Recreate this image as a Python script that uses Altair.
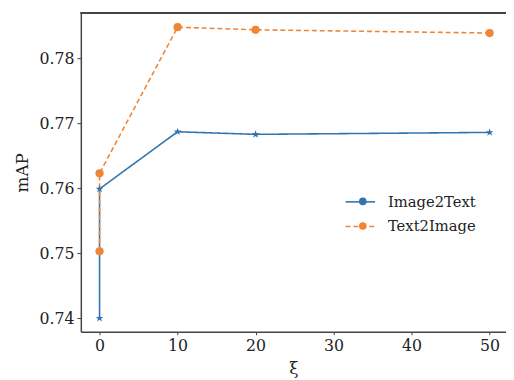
import altair as alt
import pandas as pd

series = ["Image2Text", "Text2Image"]
xi = [0, 0, 10, 20, 50]
i2t = [0.7400, 0.7599, 0.7687, 0.7683, 0.7686]
t2i = [0.7503, 0.7623, 0.7848, 0.7844, 0.7839]
order = [0, 1, 2, 3, 4]

rows = []
for s, vals in zip(series, [i2t, t2i]):
    for o, x, v in zip(order, xi, vals):
        rows.append({"series": s, "series_pt": s, "series_b": s, "xi": x, "mAP": v, "o": o})
df = pd.DataFrame(rows)

STAR = "M0,-1L0.2245,-0.309L0.951,-0.309L0.363,0.118L0.588,0.809L0,0.382L-0.588,0.809L-0.363,0.118L-0.951,-0.309L-0.2245,-0.309Z"
colors = ["#3274b0", "#ef8636"]
FONT = "DejaVu Serif"
W, H = 432, 324

x = alt.X("xi:Q", title="ξ", scale=alt.Scale(domain=[-2.4, 52.1], nice=False, zero=False),
          axis=alt.Axis(values=[0, 10, 20, 30, 40, 50], format="d"))
y = alt.Y("mAP:Q", title="mAP", scale=alt.Scale(domain=[0.7379, 0.787], nice=False, zero=False),
          axis=alt.Axis(values=[0.74, 0.75, 0.76, 0.77, 0.78], format=".2f"))

LX, LY, ROW = 268, 176, 25
stroke_leg = dict(title=None, orient="none", symbolType="stroke", symbolSize=900,
                  symbolStrokeWidth=1.6, labelOffset=12, symbolOpacity=1)

color = alt.Color("series:N", scale=alt.Scale(domain=series, range=colors),
                  legend=alt.Legend(legendX=LX, legendY=LY, values=["Image2Text"], **stroke_leg))
color_b = alt.Color("series_b:N", scale=alt.Scale(domain=series, range=colors),
                    legend=alt.Legend(legendX=LX, legendY=LY + ROW, values=["Text2Image"],
                                      symbolDash=[5, 3], **stroke_leg))
dash = alt.StrokeDash("series:N", scale=alt.Scale(domain=series, range=[[1, 0], [5, 3]]), legend=None)

pt_leg = dict(title=None, orient="none", legendX=LX + 11, legendY=LY + 8,
              labelOpacity=0, symbolSize=60, labelOffset=10, rowPadding=9)
pcolor = alt.Color("series_pt:N", scale=alt.Scale(domain=series, range=colors),
                   legend=alt.Legend(**pt_leg))
shape = alt.Shape("series_pt:N", scale=alt.Scale(domain=series, range=[STAR, "circle"]),
                  legend=alt.Legend(**pt_leg))
size = alt.Size("series:N", scale=alt.Scale(domain=series, range=[70, 70]), legend=None)

lines = alt.Chart(df).mark_line(strokeWidth=1.6).encode(x=x, y=y, color=color, strokeDash=dash, order="o:Q")
ghost = alt.Chart(df).mark_line(strokeWidth=1.6, opacity=0).encode(x=x, y=y, color=color_b, order="o:Q")
pts = alt.Chart(df).mark_point(filled=True, opacity=1).encode(x=x, y=y, color=pcolor, shape=shape, size=size)
top = alt.Chart(df).mark_rule(color="#444444", strokeWidth=1.5).encode(
    x=alt.value(0), x2=alt.value(W), y=alt.value(0))

chart = alt.layer(lines, ghost, pts, top).resolve_scale(color="independent").properties(
    width=W, height=H,
    autosize=alt.AutoSizeParams(type="none"),
    padding={"left": 74, "top": 2, "right": 0, "bottom": 46},
).configure_view(stroke=None).configure_axis(
    grid=False, domainColor="#444444", domainWidth=1.5, tickColor="#444444", tickSize=4,
    labelFont=FONT, labelFontSize=16, labelColor="#222222", titleFont=FONT, titleFontSize=17,
    titleFontWeight="normal", titleColor="#222222", labelPadding=3,
).configure_axisY(titlePadding=8).configure_axisX(titlePadding=7, tickSize=3).configure_legend(
    labelFont=FONT, labelFontSize=15, labelColor="#222222",
)

chart.save("out.html", embed_options={"renderer": "svg", "actions": False})
